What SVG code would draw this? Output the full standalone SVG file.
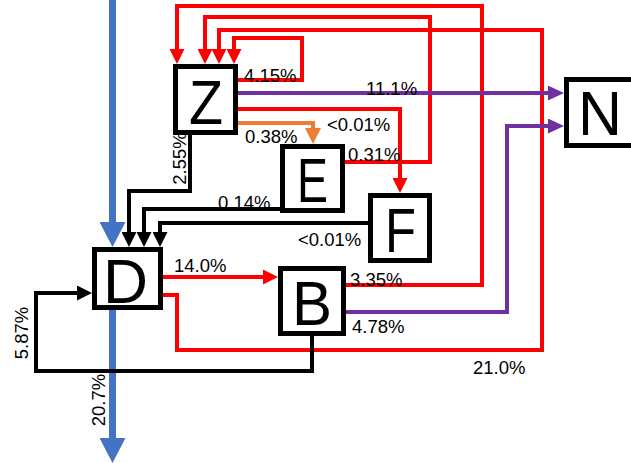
<svg xmlns="http://www.w3.org/2000/svg" width="631" height="463" viewBox="0 0 631 463">
<style>
.box{fill:#fff;stroke:#000;stroke-width:5}
.big{font-family:"Liberation Sans",Arial,sans-serif;font-size:63px;fill:#000}
.lbl{font-family:"Liberation Sans",Arial,sans-serif;font-size:18.5px;fill:#000}
.c{fill:none;stroke-width:4;stroke-linejoin:miter}
.red{stroke:#FF0000}
.blk{stroke:#000}
.pur{stroke:#7030A0}
.org{stroke:#ED7D31}
.blue{fill:none;stroke:#4472C4;stroke-width:7}
</style>
<defs>
<marker id="aR" markerUnits="userSpaceOnUse" markerWidth="15" markerHeight="15" refX="11" refY="7.5" orient="auto"><path d="M0,0 L15,7.5 L0,15 Z" fill="#FF0000"/></marker>
<marker id="aK" markerUnits="userSpaceOnUse" markerWidth="15" markerHeight="15" refX="11" refY="7.5" orient="auto"><path d="M0,0 L15,7.5 L0,15 Z" fill="#000"/></marker>
<marker id="aP" markerUnits="userSpaceOnUse" markerWidth="16" markerHeight="15" refX="12" refY="7.5" orient="auto"><path d="M0,0 L16,7.5 L0,15 Z" fill="#7030A0"/></marker>
<marker id="aO" markerUnits="userSpaceOnUse" markerWidth="16" markerHeight="16" refX="12" refY="8" orient="auto"><path d="M0,0 L16,8 L0,16 Z" fill="#ED7D31"/></marker>
<marker id="aB" markerUnits="userSpaceOnUse" markerWidth="25" markerHeight="26" refX="18" refY="13" orient="auto"><path d="M0,0 L25,13 L0,26 Z" fill="#4472C4"/></marker>
</defs>

<g id="connectors">
<!-- blue flows -->
<path class="blue" d="M112.5,0 V240" marker-end="url(#aB)"/>
<path class="blue" d="M112.5,310 V456" marker-end="url(#aB)"/>
<!-- red into Z -->
<path class="c red" d="M346,285 H482 V6 H177 V60" marker-end="url(#aR)"/>
<path class="c red" d="M344,162 H430 V17 H205 V60" marker-end="url(#aR)"/>
<path class="c red" d="M163,295 H177 V350 H542 V30 H219 V60" marker-end="url(#aR)"/>
<path class="c red" d="M238,80 H302 V38 H234 V60" marker-end="url(#aR)"/>
<!-- Z out -->
<path class="c red" d="M238,109 H400 V189" marker-end="url(#aR)"/>
<path class="c org" d="M238,123 H313 V140" marker-end="url(#aO)"/>
<path class="c pur" d="M238,93 H560" marker-end="url(#aP)"/>
<path class="c pur" d="M346,312 H507 V126 H560" marker-end="url(#aP)"/>
<!-- D to B -->
<path class="c red" d="M163,277 H274" marker-end="url(#aR)"/>
<!-- black into D -->
<path class="c blk" d="M190,135 V191 H129 V243" marker-end="url(#aK)"/>
<path class="c blk" d="M280,209 H144 V243" marker-end="url(#aK)"/>
<path class="c blk" d="M368,223 H160 V243" marker-end="url(#aK)"/>
<path class="c blk" d="M312,336 V371 H36 V293 H88" marker-end="url(#aK)"/>
</g>

<g id="labels">
<text class="lbl" x="244" y="82">4.15%</text>
<text class="lbl" x="366" y="95">11.1%</text>
<text class="lbl" x="327" y="131">&lt;0.01%</text>
<text class="lbl" x="245" y="143">0.38%</text>
<text class="lbl" x="348" y="161">0.31%</text>
<text class="lbl" x="218" y="209">0.14%</text>
<text class="lbl" x="298" y="246">&lt;0.01%</text>
<text class="lbl" x="174" y="272">14.0%</text>
<text class="lbl" x="350" y="286">3.35%</text>
<text class="lbl" x="352" y="333">4.78%</text>
<text class="lbl" x="473" y="374">21.0%</text>
<text class="lbl" text-anchor="middle" transform="translate(186,158.5) rotate(-90)">2.55%</text>
<text class="lbl" text-anchor="middle" transform="translate(28,333) rotate(-90)">5.87%</text>
<text class="lbl" text-anchor="middle" transform="translate(105,400) rotate(-90)">20.7%</text>
</g>

<g id="node-Z"><rect class="box" x="175.5" y="66.5" width="60" height="66"/><text class="big" x="189" y="124" textLength="34" lengthAdjust="spacingAndGlyphs">Z</text></g>
<g id="node-E"><rect class="box" x="282.5" y="146.5" width="60" height="64"/><text class="big" x="297" y="202" textLength="31" lengthAdjust="spacingAndGlyphs">E</text></g>
<g id="node-F"><rect class="box" x="370.5" y="195.5" width="59" height="65"/><text class="big" x="385" y="252" textLength="31" lengthAdjust="spacingAndGlyphs">F</text></g>
<g id="node-D"><rect class="box" x="94.5" y="249.5" width="66" height="58"/><text class="big" x="103" y="303" textLength="45" lengthAdjust="spacingAndGlyphs">D</text></g>
<g id="node-B"><rect class="box" x="280.5" y="268.5" width="63" height="65"/><text class="big" x="292" y="325" textLength="40" lengthAdjust="spacingAndGlyphs">B</text></g>
<g id="node-N"><rect class="box" x="566.5" y="79.5" width="80" height="66"/><text class="big" x="578" y="135" textLength="44" lengthAdjust="spacingAndGlyphs">N</text></g>
</svg>
